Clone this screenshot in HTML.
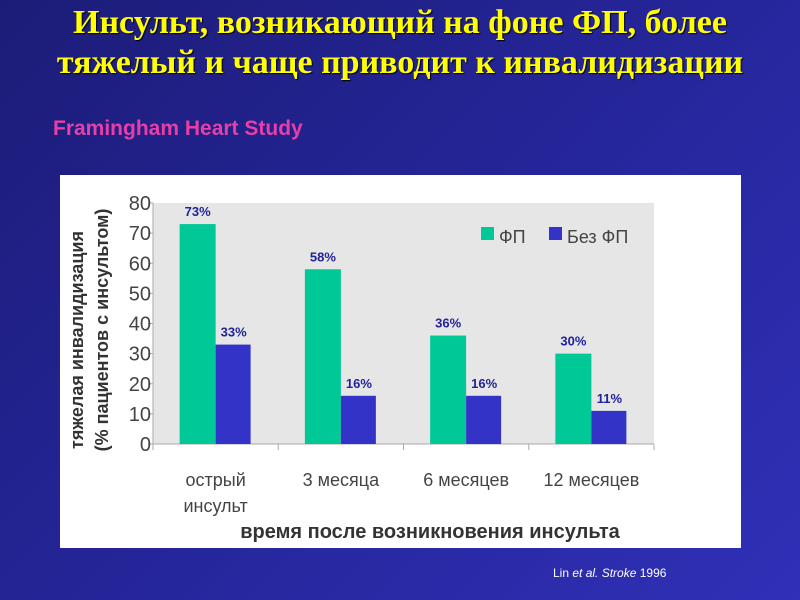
<!DOCTYPE html>
<html><head><meta charset="utf-8"><style>
body{margin:0;width:800px;height:600px;overflow:hidden;background:linear-gradient(135deg,#1c1c78 0%,#242496 45%,#3030b8 100%);font-family:"Liberation Sans","Noto Sans CJK SC",sans-serif;position:relative}
.title{position:absolute;left:0;width:800px;top:3px;text-align:center;font-family:"Liberation Serif","Noto Serif CJK SC",serif;font-weight:bold;font-size:34px;line-height:40px;color:#ffff00;text-shadow:1px 1px 1px #000;white-space:nowrap}
.sub{position:absolute;left:53px;top:117px;font-weight:bold;font-size:21px;color:#e83ea8}
.cite{position:absolute;left:553px;top:566px;font-size:12px;color:#fff}
</style></head><body>
<div class="title">Инсульт, возникающий на фоне ФП, более<br>тяжелый и чаще приводит к инвалидизации</div>
<div class="sub">Framingham Heart Study</div>
<svg id="chart" width="800" height="600" style="position:absolute;left:0;top:0">
<rect x="60" y="175" width="681" height="373" fill="#fff"/>
<rect x="153" y="203" width="501" height="241" fill="#e6e6e6"/>
<g id="marks"></g>
</svg>
<div class="cite">Lin <i>et al. Stroke</i> 1996</div>
<script>
const categories=[["острый","инсульт"],["3 месяца"],["6 месяцев"],["12 месяцев"]];
const afValues=[73,58,36,30];
const noAfValues=[33,16,16,11];
const yTicks=[0,10,20,30,40,50,60,70,80];
const seriesNames=["ФП","Без ФП"];
const NS="http://www.w3.org/2000/svg";
const g=document.getElementById('marks');
const X0=153,X1=654,Y0=444,Y1=203,YMAX=80;
const y=v=>Y0-(v/YMAX)*(Y0-Y1);
const gw=(X1-X0)/categories.length;
const gx=i=>X0+gw*(i+0.5);
function el(t,a,txt){const e=document.createElementNS(NS,t);for(const k in a)e.setAttribute(k,a[k]);if(txt!=null)e.textContent=txt;g.appendChild(e);return e;}
let ax=el('line',{x1:X0,y1:Y1,x2:X0,y2:Y0,stroke:'#aaa'});


let xx=el('line',{x1:X0,y1:Y0,x2:X1,y2:Y0,stroke:'#aaa'});


yTicks.forEach(t=>{
 el('line',{x1:X0-5,y1:y(t),x2:X0,y2:y(t),stroke:'#aaa'});
 const tl=el('text',{x:X0-2,y:y(t)+7,'text-anchor':'end','font-size':20,fill:'#444'},t);
 
 
});
for(let i=0;i<=categories.length;i++){el('line',{x1:X0+gw*i,y1:Y0,x2:X0+gw*i,y2:Y0+6,stroke:'#aaa'});}
categories.forEach((c,i)=>{
 const cx=gx(i);
 const b1=el('rect',{x:cx-36,y:y(afValues[i]),width:36,height:Y0-y(afValues[i]),fill:'#00c896'});
 
 
 const b2=el('rect',{x:cx,y:y(noAfValues[i]),width:35,height:Y0-y(noAfValues[i]),fill:'#3333c8'});
 
 
 const l1=el('text',{x:cx-18,y:y(afValues[i])-8,'text-anchor':'middle','font-size':13,'font-weight':'bold',fill:'#22229a'},afValues[i]+'%');
 
 
 const l2=el('text',{x:cx+18,y:y(noAfValues[i])-8,'text-anchor':'middle','font-size':13,'font-weight':'bold',fill:'#22229a'},noAfValues[i]+'%');
 
 
 c.forEach((line,j)=>{
  const t=el('text',{x:cx,y:486+j*26,'text-anchor':'middle','font-size':18,fill:'#444'},line);
  
  
 });
});
const lg1=el('rect',{x:481,y:227,width:13,height:13,fill:'#00c896'});


const lt1=el('text',{x:499,y:243,'font-size':18,fill:'#444'},seriesNames[0]);


const lg2=el('rect',{x:549,y:227,width:13,height:13,fill:'#3333c8'});


const lt2=el('text',{x:567,y:243,'font-size':18,fill:'#444'},seriesNames[1]);


const xt=el('text',{x:430,y:538,'text-anchor':'middle','font-size':20,'font-weight':'bold',fill:'#333'},'время после возникновения инсульта');


const yt1=el('text',{x:0,y:0,'text-anchor':'middle','font-size':18,'font-weight':'bold',fill:'#333',transform:'translate(83,340) rotate(-90)'},'тяжелая инвалидизация');


const yt2=el('text',{x:0,y:0,'text-anchor':'middle','font-size':18,'font-weight':'bold',fill:'#333',transform:'translate(108,330) rotate(-90)'},'(% пациентов с инсультом)');


</script>
</body></html>
